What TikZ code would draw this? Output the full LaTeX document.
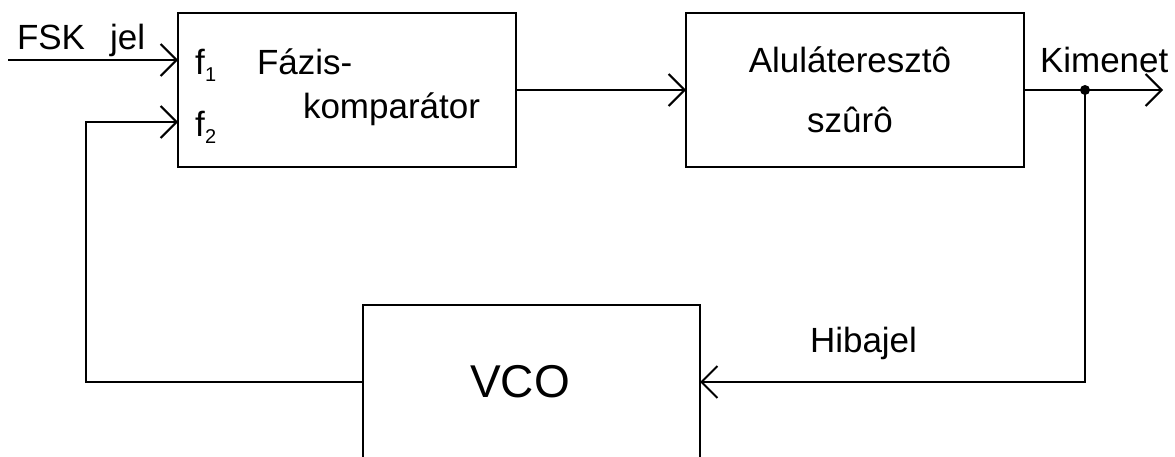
\documentclass[tikz,border=0pt]{standalone}
\usepackage{fontspec}
\setmainfont{Liberation Sans}
\usetikzlibrary{arrows.meta}

\begin{document}
\begin{tikzpicture}[
  x=1pt, y=-1pt,
  line width=2pt,
  block/.style={draw, rectangle, minimum width=338pt, minimum height=154pt, inner sep=0pt, outer sep=0pt},
  lbl/.style={inner sep=0pt, outer sep=0pt, font=\fontsize{35}{40}\selectfont},
  sub/.style={inner sep=0pt, outer sep=0pt, font=\fontsize{20}{22}\selectfont},
  arr/.style={-{Straight Barb[length=16pt,width=32pt,line width=2pt]}},
]
\useasboundingbox (0,0) rectangle (1175,457);
\clip (0,0) rectangle (1175,457);

% blocks
\node[block] (cmp) at (347,90) {};
\node[block] (lpf) at (855,90) {};
\node[block, minimum width=337pt, minimum height=200pt] (vco) at (531.5,405) {};

% texts
\node[lbl, anchor=base west] (fsk) at (17,50) {FSK\hspace{25pt}jel};
\node[lbl, anchor=base west] (f1) at (195,75) {f};
\node[sub, anchor=base west] (f1s) at (205,82) {1};
\node[lbl, anchor=base west] (f2) at (195,137) {f};
\node[sub, anchor=base west] (f2s) at (205,144) {2};
\node[lbl, anchor=base west] (faz) at (257,75) {Fázis-};
\node[lbl, anchor=base west] (komp) at (303,119) {komparátor};
\node[lbl, anchor=base] (alul) at (850,73) {Aluláteresztô};
\node[lbl, anchor=base] (szuro) at (850,133) {szûrô};
\node[lbl, anchor=base west] (kim) at (1040,73) {Kimenet};
\node[lbl, anchor=base west] (hiba) at (810,352) {Hibajel};
\node[inner sep=0pt, outer sep=0pt, font=\fontsize{46}{50}\selectfont, anchor=base] (vcot) at (520,397) {VCO};

% connection points
\coordinate (fskin) at (8,60);
\coordinate (p1) at (178,60);
\coordinate (p2) at (178,122);
\coordinate (fbl) at (86,382);
\coordinate (junc) at (1085,90);
\coordinate (outend) at (1163,90);
\coordinate (fbr) at (1085,382);

% connectors
\draw[arr] (fskin) -- (p1);
\draw[arr] (vco.west |- fbl) -- (fbl) -- (fbl |- p2) -- (p2);
\draw[arr] (cmp.east) -- (lpf.west);
\draw[arr] (lpf.east) -- (outend);
\draw[arr] (junc) -- (fbr) -- (fbr -| vco.east);
\fill (junc) circle (5pt);
\end{tikzpicture}
\end{document}
